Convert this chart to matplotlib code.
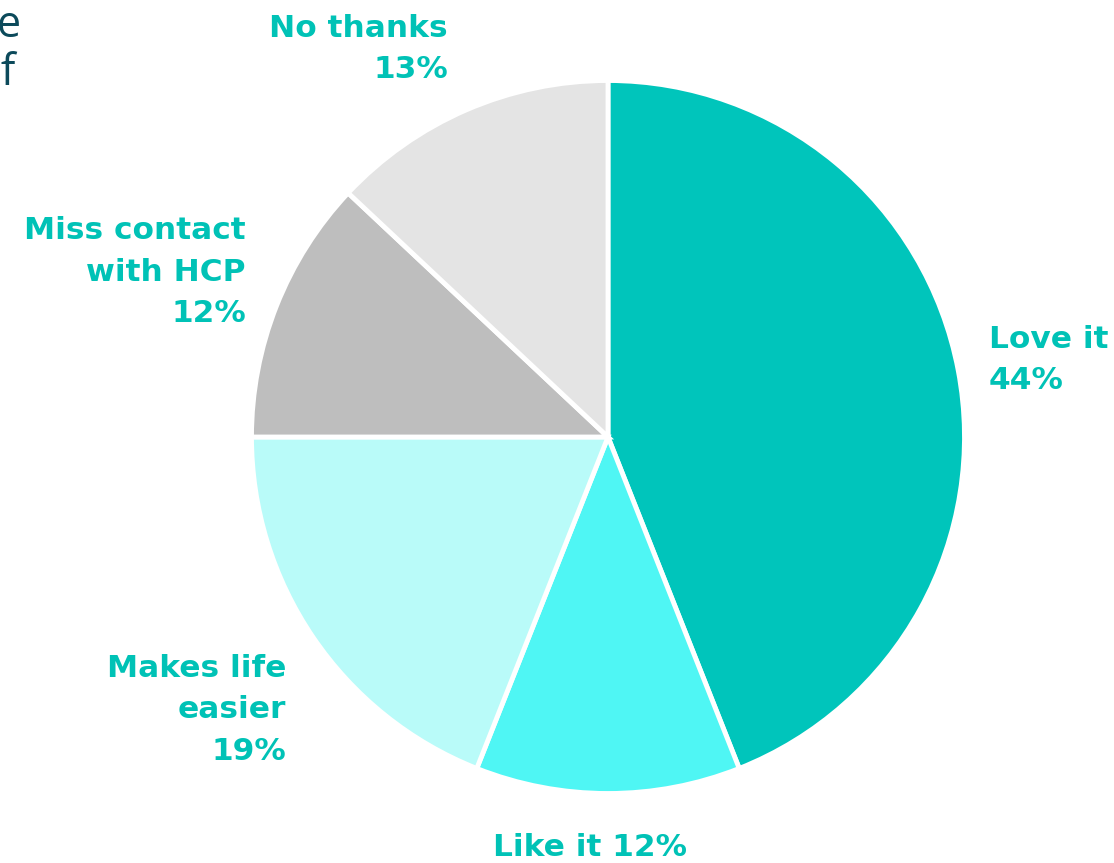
import matplotlib
matplotlib.use("Agg")
import matplotlib.pyplot as plt

labels = ["Love it", "Like it", "Makes life\neasier", "Miss contact\nwith HCP", "No thanks"]
values = [44, 12, 19, 12, 13]
colors = ["#00c5bb", "#4ff6f4", "#b9fbf9", "#bebebe", "#e4e4e4"]
label_color = "#00c2b6"

W, H = 1114, 863
fig = plt.figure(figsize=(W / 100, H / 100), dpi=100)
cx, cy, r = 608, 437, 356.5
ax = fig.add_axes([(cx - r) / W, (H - cy - r) / H, 2 * r / W, 2 * r / H])
ax.pie(values, colors=colors, startangle=90, counterclock=False, radius=1,
       wedgeprops=dict(edgecolor="white", linewidth=3.5))
ax.set_xlim(-1, 1)
ax.set_ylim(-1, 1)
ax.set_aspect("equal")
ax.axis("off")

def px(x, y):
    return ((x - cx) / r, (cy - y) / r)

fs = 22.5
kw = dict(fontsize=fs, fontweight="bold", color=label_color, linespacing=1.55, clip_on=False)
texts = [
    (f"{labels[0]}\n{values[0]}%", px(989, 360), "left"),
    (f"{labels[1]} {values[1]}%", px(590, 847), "center"),
    (f"{labels[2]}\n{values[2]}%", px(286, 710), "right"),
    (f"{labels[3]}\n{values[3]}%", px(246, 272), "right"),
    (f"{labels[4]}\n{values[4]}%", px(448, 49), "right"),
]
for s, (x, y), ha in texts:
    ax.text(x, y, s, ha=ha, va="center", **kw)

fig.text(21 / W, 1 - 37 / H, "e", ha="right", va="baseline", fontsize=31,
         color="#0c4a5b", family="Open Sans")
fig.text(16 / W, 1 - 85 / H, "of", ha="right", va="baseline", fontsize=31,
         color="#0c4a5b", family="Open Sans")

fig.savefig("out.png", dpi=100)
